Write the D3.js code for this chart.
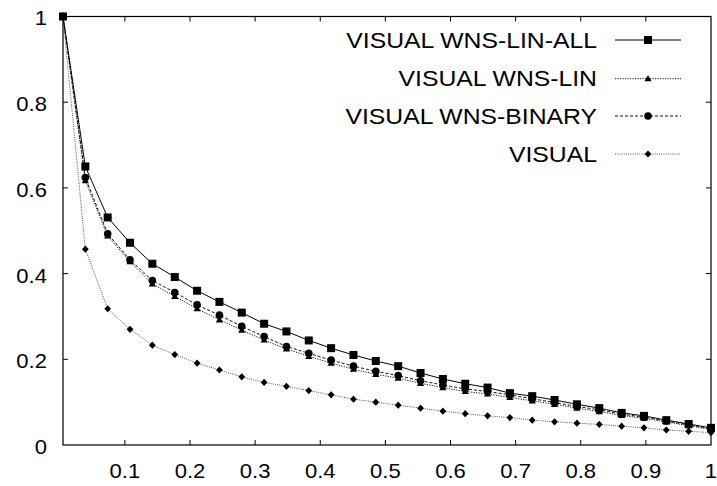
<!DOCTYPE html>
<html><head><meta charset="utf-8">
<script src="https://cdn.jsdelivr.net/npm/d3@7"></script>
<style>body{margin:0;background:#fff}svg{display:block}text{font-family:"Liberation Sans",Arial,Helvetica,sans-serif}</style>
</head><body>
<svg id="c" width="717" height="486"></svg>
<script>
const xs = [0.005,0.0393,0.0736,0.1079,0.1422,0.1766,0.2109,0.2452,0.2795,0.3138,0.3481,0.3824,0.4167,0.4510,0.4853,0.5197,0.5540,0.5883,0.6226,0.6569,0.6912,0.7255,0.7598,0.7941,0.8284,0.8628,0.8971,0.9314,0.9657,1.0];
const linAll = [1.0,0.650,0.531,0.472,0.423,0.392,0.360,0.334,0.309,0.283,0.265,0.244,0.226,0.210,0.196,0.184,0.168,0.154,0.143,0.134,0.121,0.114,0.105,0.095,0.086,0.075,0.068,0.058,0.049,0.040];
const lin = [1.0,0.617,0.488,0.428,0.376,0.347,0.318,0.292,0.268,0.245,0.224,0.207,0.191,0.177,0.165,0.156,0.144,0.134,0.125,0.119,0.111,0.103,0.095,0.086,0.078,0.069,0.062,0.054,0.045,0.036];
const binary = [1.0,0.624,0.493,0.432,0.384,0.356,0.327,0.303,0.277,0.253,0.230,0.214,0.198,0.184,0.172,0.162,0.150,0.140,0.131,0.125,0.117,0.108,0.099,0.090,0.082,0.072,0.065,0.056,0.047,0.038];
const visual = [1.0,0.457,0.318,0.270,0.233,0.211,0.191,0.175,0.159,0.146,0.137,0.127,0.117,0.107,0.100,0.093,0.086,0.079,0.073,0.068,0.064,0.058,0.054,0.051,0.048,0.044,0.040,0.035,0.032,0.029];
const seriesNames = ["VISUAL WNS-LIN-ALL","VISUAL WNS-LIN","VISUAL WNS-BINARY","VISUAL"];
const xTicks = [0.1,0.2,0.3,0.4,0.5,0.6,0.7,0.8,0.9,1];
const yTicks = [0,0.2,0.4,0.6,0.8,1];

const svg = d3.select("#c");
const L=63, R=711, T=16.5, B=445;
const x = d3.scaleLinear().domain([0.005,1]).range([L,R]);
const y = d3.scaleLinear().domain([0,1]).range([B,T]);

const series = [
  {name:seriesNames[0], vals:linAll, dash:null, stroke:"#000", marker:"square"},
  {name:seriesNames[1], vals:lin, dash:"1.2,1.3", stroke:"#111", marker:"triangle"},
  {name:seriesNames[2], vals:binary, dash:"3,2", stroke:"#111", marker:"circle"},
  {name:seriesNames[3], vals:visual, dash:"1,1.2", stroke:"#555", marker:"diamond"}
];

svg.append("rect").attr("x",L).attr("y",T).attr("width",R-L).attr("height",B-T)
  .attr("fill","none").attr("stroke","#000").attr("stroke-width",1.2);

const g = svg.append("g");
const tl = 5;
xTicks.forEach(t=>{
  const px = x(t);
  if (t<1){
  g.append("line").attr("x1",px).attr("x2",px).attr("y1",B).attr("y2",B-tl).attr("stroke","#000");
  g.append("line").attr("x1",px).attr("x2",px).attr("y1",T).attr("y2",T+tl).attr("stroke","#000");
  }
});
yTicks.forEach(t=>{
  const py = y(t);
  if (t>0 && t<1){
  g.append("line").attr("x1",L).attr("x2",L+tl).attr("y1",py).attr("y2",py).attr("stroke","#000");
  g.append("line").attr("x1",R).attr("x2",R-tl).attr("y1",py).attr("y2",py).attr("stroke","#000");
  }
});
const fmt = d => d===1?"1":d===0?"0":String(d);
function stretchedText(sel, tx, ty, anchor, size, sx, str){
  return sel.append("text").attr("transform",`translate(${tx},${ty}) scale(${sx},1)`)
    .attr("text-anchor",anchor).attr("font-size",size).text(str);
}
const xl = svg.append("g");
xTicks.forEach(d=>stretchedText(xl, x(d), 478, "middle", 21, 1.05, fmt(d)));
const yl = svg.append("g");
yTicks.forEach(d=>stretchedText(yl, 47, y(d)+8.9, "end", 21, 1.05, fmt(d)));

function drawMarker(sel, type, cx, cy){
  if(type==="square") sel.append("rect").attr("x",cx-4).attr("y",cy-4).attr("width",8).attr("height",8).attr("fill","#000");
  else if(type==="circle") sel.append("circle").attr("cx",cx).attr("cy",cy).attr("r",3.8).attr("fill","#000");
  else if(type==="triangle") sel.append("path").attr("d",`M${cx},${cy-3.8}L${cx+3.6},${cy+2.6}L${cx-3.6},${cy+2.6}Z`).attr("fill","#000");
  else if(type==="diamond") sel.append("path").attr("d",`M${cx},${cy-3.6}L${cx+3.4},${cy}L${cx},${cy+3.6}L${cx-3.4},${cy}Z`).attr("fill","#000");
}

const line = d3.line().x((d,i)=>x(xs[i])).y(d=>y(d));
[...series].reverse().forEach(s=>{
  const p = svg.append("path").attr("d",line(s.vals)).attr("fill","none")
    .attr("stroke",s.stroke).attr("stroke-width",1);
  if(s.dash) p.attr("stroke-dasharray",s.dash);
  const mg = svg.append("g");
  s.vals.forEach((v,i)=>drawMarker(mg,s.marker,x(xs[i]),y(v)));
});

const rows=[40,78.7,116,154];
series.forEach((s,i)=>{
  const ly=rows[i];
  stretchedText(svg, 597, ly+7.7, "end", 22.3, 1.11, s.name);
  const p=svg.append("line").attr("x1",615).attr("x2",681).attr("y1",ly).attr("y2",ly)
    .attr("stroke",s.stroke).attr("stroke-width",1);
  if(s.dash) p.attr("stroke-dasharray",s.dash);
  drawMarker(svg,s.marker,648,ly);
});
</script>
</body></html>
